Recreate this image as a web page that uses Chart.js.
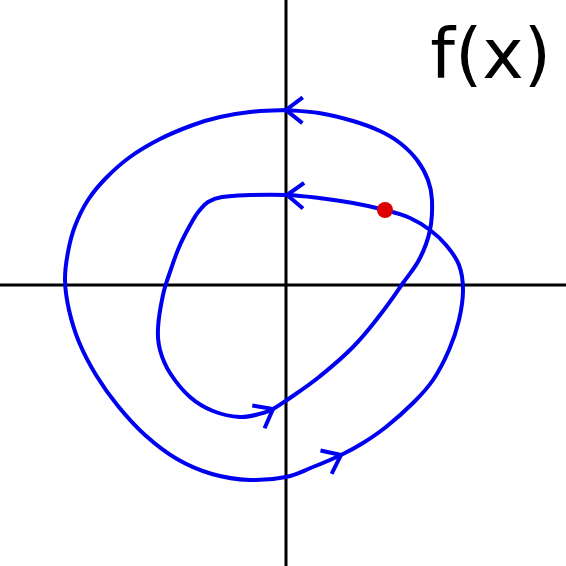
<!DOCTYPE html>
<html>
<head>
<meta charset="utf-8">
<script src="https://cdn.jsdelivr.net/npm/chart.js@4/dist/chart.umd.min.js"></script>
<style>
  html, body { margin: 0; padding: 0; background: #fff; }
  canvas { display: block; }
</style>
</head>
<body>
<canvas id="myChart" width="566" height="566"></canvas>
<script>
// Courbe fermée (parcours dans l'ordre, sens anti-horaire pour la grande boucle)
const curveX = [0, -36, -66, -93, -126, -156, -180, -198, -211, -218, -221, -217, -207, -190, -168, -141, -109, -74, -36, 0,
  27, 55, 77, 100, 127, 147, 163, 173, 177, 173, 160, 144, 124, 99, 67, 33, 1, -36, -64, -78,
  -87, -93, -106, -116, -123, -128, -126, -116, -96, -73, -46, -23, -13, 1, 33, 67, 94, 117, 134, 144,
  146, 142, 131, 114, 94, 67, 33, 0];
const curveY = [175, 173, 168, 160, 146, 128, 107, 85, 59, 33, 5, -25, -57, -90, -121, -150, -174, -189, -195, -192,
  -182, -170, -158, -142, -118, -95, -65, -35, -5, 20, 40, 55, 67, 75, 82, 87, 90, 90, 88, 83,
  74, 65, 40, 13, -10, -43, -65, -88, -112, -126, -132, -128, -124, -115, -92, -62, -30, 2, 27, 55,
  85, 105, 125, 142, 154, 164, 172, 175];

// Indices des flèches sur la courbe
const arrowIdx = [0, 21, 36, 52];
// Point rouge
const dotX = [99];
const dotY = [75];

const label = 'f(x)';

// Bornes des axes
const xMin = -286, xMax = 280;
const yMin = -281, yMax = 285;

const curve = curveX.map((x, i) => ({ x: x, y: curveY[i] }));
const dot = dotX.map((x, i) => ({ x: x, y: dotY[i] }));

// Axes qui se croisent en (0,0)
const axesPlugin = {
  id: 'axes',
  beforeDatasetsDraw(chart) {
    const { ctx, chartArea, scales } = chart;
    const x0 = scales.x.getPixelForValue(0);
    const y0 = scales.y.getPixelForValue(0);
    ctx.save();
    ctx.strokeStyle = '#000';
    ctx.lineWidth = 3;
    ctx.beginPath();
    ctx.moveTo(chartArea.left, y0);
    ctx.lineTo(chartArea.right, y0);
    ctx.moveTo(x0, chartArea.top);
    ctx.lineTo(x0, chartArea.bottom);
    ctx.stroke();
    ctx.restore();
  }
};

// Flèches (chevrons) dans le sens du parcours
const arrowPlugin = {
  id: 'arrows',
  afterDatasetsDraw(chart) {
    const { ctx, scales } = chart;
    const px = i => scales.x.getPixelForValue(curve[i].x);
    const py = i => scales.y.getPixelForValue(curve[i].y);
    const n = curve.length - 1;
    ctx.save();
    ctx.strokeStyle = '#0000f0';
    ctx.lineWidth = 4;
    ctx.lineCap = 'butt';
    arrowIdx.forEach(i => {
      const prev = i === 0 ? n - 1 : i - 1;
      const next = i + 1;
      const dx = px(next) - px(prev);
      const dy = py(next) - py(prev);
      const a = Math.atan2(dy, dx);
      const tx = px(i), ty = py(i);
      const len = 21, spread = 0.66;
      ctx.beginPath();
      ctx.moveTo(tx - len * Math.cos(a + spread), ty - len * Math.sin(a + spread));
      ctx.lineTo(tx, ty);
      ctx.lineTo(tx - len * Math.cos(a - spread), ty - len * Math.sin(a - spread));
      ctx.stroke();
    });
    ctx.restore();
  }
};

// Texte f(x) en haut à droite
const labelPlugin = {
  id: 'fxLabel',
  afterDraw(chart) {
    const { ctx } = chart;
    ctx.save();
    ctx.fillStyle = '#000';
    ctx.font = '70px "DejaVu Sans", sans-serif';
    ctx.textAlign = 'right';
    ctx.textBaseline = 'alphabetic';
    ctx.fillText(label, 551, 78);
    ctx.restore();
  }
};

const ctx = document.getElementById('myChart').getContext('2d');

const myChart = new Chart(ctx, {
  type: 'line',
  data: {
    datasets: [
      {
        data: curve,
        borderColor: '#0000f0',
        borderWidth: 4,
        tension: 0.4,
        fill: false,
        pointRadius: 0,
        order: 2
      },
      {
        data: dot,
        showLine: false,
        pointRadius: 8,
        pointBackgroundColor: '#dd0000',
        pointBorderWidth: 0,
        order: 1
      }
    ]
  },
  options: {
    responsive: false,
    animation: false,
    layout: { padding: 0, autoPadding: false },
    plugins: {
      legend: { display: false },
      tooltip: { enabled: false }
    },
    scales: {
      x: { type: 'linear', min: xMin, max: xMax, display: false },
      y: { type: 'linear', min: yMin, max: yMax, display: false }
    }
  },
  plugins: [axesPlugin, arrowPlugin, labelPlugin]
});
</script>
</body>
</html>
